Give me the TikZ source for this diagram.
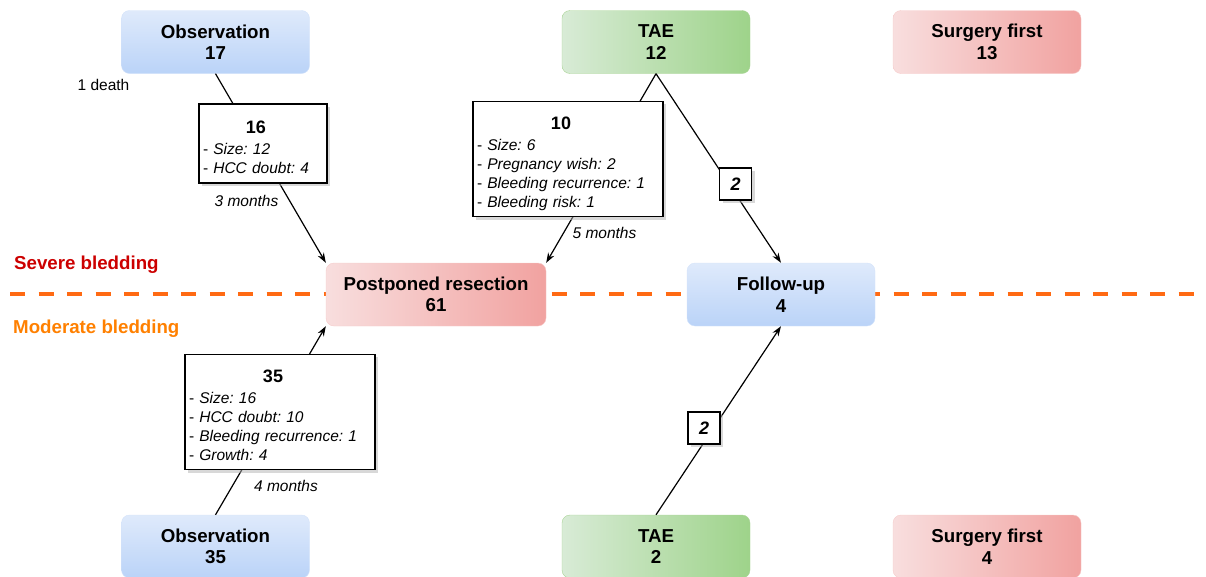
\documentclass[tikz,border=0pt]{standalone}
\usepackage{fontspec}
\setmainfont{Liberation Sans}
\usetikzlibrary{arrows.meta,shadows}
\frenchspacing

\definecolor{blueTop}{RGB}{223,234,251}
\definecolor{blueBot}{RGB}{186,211,248}
\definecolor{greenL}{RGB}{216,235,214}
\definecolor{greenR}{RGB}{158,211,138}
\definecolor{greenEdge}{RGB}{170,212,150}
\definecolor{pinkL}{RGB}{248,222,222}
\definecolor{pinkR}{RGB}{241,162,160}
\definecolor{severe}{RGB}{204,0,0}
\definecolor{moderate}{RGB}{255,128,0}
\definecolor{divider}{RGB}{255,106,19}

\tikzset{
  phase/.style={rounded corners=8pt, minimum width=188pt, minimum height=63pt,
    align=center, font=\bfseries\fontsize{18.7}{21.5}\selectfont},
  bluebox/.style={phase, top color=blueTop, bottom color=blueBot, draw=blueTop!70!blueBot},
  greenbox/.style={phase, left color=greenL, right color=greenR, draw=greenEdge},
  pinkbox/.style={phase, left color=pinkL, right color=pinkR, draw=pinkL!70!pinkR},
  reason/.style={draw, fill=white, line width=1.1pt, inner xsep=4pt,
    drop shadow={shadow xshift=3pt, shadow yshift=-3pt, fill=black!30},
    font=\fontsize{15.5}{19}\selectfont},
  flow/.style={line width=1.2pt},
  flowto/.style={flow, -{Stealth[length=10pt,width=7pt]}},
  note/.style={font=\itshape\fontsize{15.5}{19}\selectfont},
  band/.style={anchor=west, inner sep=0pt, font=\bfseries\fontsize{18.7}{21.5}\selectfont}
}
\newcommand{\whyhead}[1]{\multicolumn{1}{@{}c@{}}{\rule{0pt}{25pt}\bfseries\fontsize{18}{19}\selectfont #1}}

\begin{document}
\begin{tikzpicture}[x=1pt,y=-1pt]
\useasboundingbox (0,0) rectangle (1206,576);

\draw [divider, line width=3.5pt, dash pattern=on 15pt off 13.5pt] (10,294) -- (1206,294);
\node (sev) [band, text=severe] at (14,265) {Severe bledding};
\node (mod) [band, text=moderate] at (13,329) {Moderate bledding};

\node (obsA) [bluebox] at (215.5,42) {Observation\\17};
\node (taeA) [greenbox] at (656,42) {TAE\\12};
\node (surgA) [pinkbox] at (987,42) {Surgery first\\13};
\node (pp) [pinkbox, minimum width=220pt] at (436,294.5) {Postponed resection\\61};
\node (fu) [bluebox] at (781,294.5) {Follow-up\\4};
\node (obsB) [bluebox] at (215.5,546.5) {Observation\\35};
\node (taeB) [greenbox] at (656,546.5) {TAE\\2};
\node (surgB) [pinkbox] at (987,546.5) {Surgery first\\4};

\draw [flowto] (obsA.south) -- (pp.north west);
\draw [flowto] (taeA.south) -- (pp.north east);
\draw [flowto] (taeA.south) -- (fu.north);
\draw [flowto] (obsB.north) -- (pp.south west);
\draw [flowto] (taeB.north) -- (fu.south);

\node (why16) [reason, text width=120pt, minimum height=79pt] at (263,143.5) {
\begin{tabular}{@{}l@{}}
  \whyhead{16} \\[2pt]
  - \textit{Size: 12} \\
  - \textit{HCC doubt: 4}
\end{tabular}};
\node (why10) [reason, text width=182pt, minimum height=110pt] at (568,159) {
\begin{tabular}{@{}l@{}}
  \whyhead{10} \\[2pt]
  - \textit{Size: 6} \\
  - \textit{Pregnancy wish: 2} \\
  - \textit{Bleeding recurrence: 1} \\
  - \textit{Bleeding risk: 1}
\end{tabular}};
\node (why35) [reason, text width=182pt, minimum height=110pt] at (280,412) {
\begin{tabular}{@{}l@{}}
  \whyhead{35} \\[2pt]
  - \textit{Size: 16} \\
  - \textit{HCC doubt: 10} \\
  - \textit{Bleeding recurrence: 1} \\
  - \textit{Growth: 4}
\end{tabular}};
\node (twoA) [reason, minimum width=32pt, minimum height=32pt, inner sep=0pt,
  font=\bfseries\itshape\fontsize{18}{19}\selectfont] at (735.5,184) {2};
\node (twoB) [reason, minimum width=32pt, minimum height=32pt, inner sep=0pt,
  font=\bfseries\itshape\fontsize{18}{19}\selectfont] at (704,428) {2};

\node (death) [font=\fontsize{15.5}{19}\selectfont] at (103.5,85) {1 death};
\node (lag16) [note] at (246.5,201) {3 months};
\node (lag10) [note] at (604.5,233) {5 months};
\node (lag35) [note] at (286,486) {4 months};
\end{tikzpicture}
\end{document}
